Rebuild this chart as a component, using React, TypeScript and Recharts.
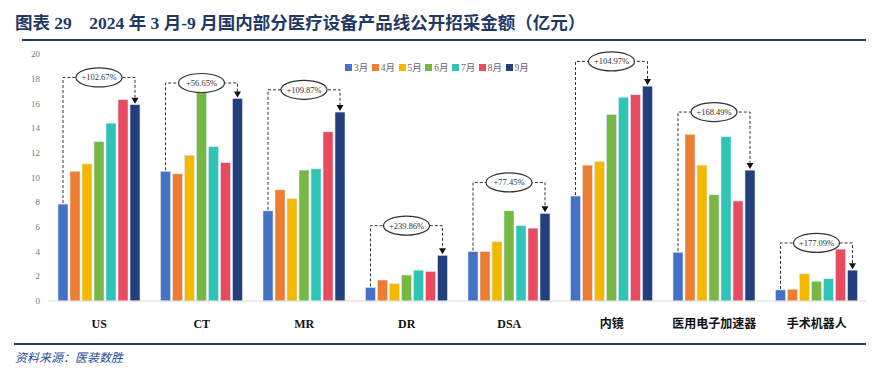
import React from 'react';
import { BarChart, Bar, XAxis, YAxis } from 'recharts';

const categories = ['US', 'CT', 'MR', 'DR', 'DSA', '内镜', '医用电子加速器', '手术机器人'];
const months = ['3月', '4月', '5月', '6月', '7月', '8月', '9月'];
const m3 = [7.85, 10.5, 7.3, 1.1, 4.0, 8.5, 3.95, 0.9];
const m4 = [10.5, 10.3, 9.0, 1.7, 4.0, 11.0, 13.5, 0.95];
const m5 = [11.1, 11.8, 8.3, 1.4, 4.8, 11.3, 11.0, 2.2];
const m6 = [12.9, 17.0, 10.6, 2.1, 7.3, 15.1, 8.6, 1.6];
const m7 = [14.4, 12.5, 10.7, 2.5, 6.1, 16.5, 13.3, 1.8];
const m8 = [16.3, 11.2, 13.7, 2.4, 5.9, 16.7, 8.1, 4.2];
const m9 = [15.9, 16.4, 15.3, 3.7, 7.1, 17.4, 10.6, 2.5];
const growth = ['+102.67%', '+56.65%', '+109.87%', '+239.86%', '+77.45%', '+104.97%', '+168.49%', '+177.09%'];
const yTicks = [0, 2, 4, 6, 8, 10, 12, 14, 16, 18, 20];

// bracket height of each annotation, in axis units
const annotationLevel = [18.1, 17.65, 17.1, 6.1, 9.6, 19.4, 15.3, 4.7];

const colors = ['#4472C4', '#ED7D31', '#F5B800', '#76B843', '#2EC4B6', '#E84A5F', '#233F7C'];
const series = [m3, m4, m5, m6, m7, m8, m9];
const keys = ['m3', 'm4', 'm5', 'm6', 'm7', 'm8', 'm9'];

const data = categories.map((name, i) => {
  const row: any = { name };
  keys.forEach((k, j) => (row[k] = series[j][i]));
  return row;
});

const BAR = 10;
const GAP = 2;

const LastBar = (props: any) => {
  const { x, y, width, height, value, index, fill } = props;
  const base = y + height;
  const ppu = height / value;
  const x9 = x + width / 2;
  const x3 = x - 6 * (width + GAP) + width / 2;
  const y3 = base - m3[index] * ppu;
  const yb = base - annotationLevel[index] * ppu;
  const mid = (x3 + x9) / 2;
  return (
    <g>
      <rect x={x} y={y} width={width} height={height} fill={fill} stroke="#dfe6f2" strokeWidth={0.6} />
      <path
        d={`M${x3},${y3 - 1} L${x3},${yb} L${x9},${yb} L${x9},${y - 7}`}
        fill="none"
        stroke="#333"
        strokeWidth={1}
        strokeDasharray="3 2"
      />
      <polygon points={`${x9 - 3.5},${y - 7} ${x9 + 3.5},${y - 7} ${x9},${y - 1}`} fill="#111" />
      <ellipse cx={mid} cy={yb} rx={23} ry={9.5} fill="#fff" stroke="#333" strokeWidth={1.2} />
      <text
        x={mid}
        y={yb + 3}
        textAnchor="middle"
        fontSize={8.5}
        fill="#333"
        fontFamily="'Liberation Serif', serif"
      >
        {growth[index]}
      </text>
    </g>
  );
};

const PlainBar = (props: any) => {
  const { x, y, width, height, fill } = props;
  return <rect x={x} y={y} width={width} height={height} fill={fill} stroke="#dfe6f2" strokeWidth={0.6} />;
};

const XTick = (props: any) => {
  const { x, y, payload } = props;
  return (
    <text
      x={x}
      y={y + 19}
      textAnchor="middle"
      fontSize={12}
      fontWeight="bold"
      fill="#111"
      fontFamily="'Liberation Serif', 'Noto Sans CJK SC', serif"
    >
      {payload.value}
    </text>
  );
};

export default function App() {
  return (
    <div style={{ position: 'relative', width: 874, height: 377, margin: -8, background: '#fff', overflow: 'hidden' }}>
      <div
        style={{
          position: 'absolute',
          left: 15,
          top: 9,
          fontFamily: "'Liberation Serif', 'Noto Sans CJK SC', serif",
          fontWeight: 'bold',
          fontSize: 17.5,
          color: '#1F3864',
          whiteSpace: 'pre',
        }}
      >
        {'图表 29    2024 年 3 月-9 月国内部分医疗设备产品线公开招采金额（亿元）'}
      </div>
      <div style={{ position: 'absolute', left: 22, right: 0, top: 39, height: 2, background: '#1F3864' }} />
      <div style={{ position: 'absolute', left: 0, top: 40 }}>
        <BarChart
          width={874}
          height={300}
          data={data}
          barSize={BAR}
          barGap={GAP}
          margin={{ top: 14, right: 6, left: 8, bottom: 9 }}
        >
          <XAxis
            dataKey="name"
            axisLine={{ stroke: '#d9d9d9' }}
            tickLine={false}
            height={30}
            interval={0}
            tick={<XTick />}
          />
          <YAxis
            domain={[0, 20]}
            ticks={yTicks}
            width={40}
            axisLine={false}
            tickLine={false}
            tick={{ fontSize: 9, fill: '#777', fontFamily: "'Liberation Serif', serif" }}
          />
          {keys.map((k, j) => (
            <Bar
              key={k}
              dataKey={k}
              name={months[j]}
              fill={colors[j]}
              isAnimationActive={false}
              shape={j === 6 ? <LastBar /> : <PlainBar />}
            />
          ))}
        </BarChart>
      </div>
      <div
        style={{
          position: 'absolute',
          left: 345,
          top: 60,
          display: 'flex',
          fontFamily: "'Liberation Serif', 'Noto Sans CJK SC', serif",
          fontSize: 9.5,
          color: '#666',
        }}
      >
        {months.map((m, i) => (
          <div key={m} style={{ display: 'flex', alignItems: 'center', marginRight: 3.5 }}>
            <span style={{ width: 7, height: 7, background: colors[i], display: 'inline-block', marginRight: 2 }} />
            {m}
          </div>
        ))}
      </div>
      <div style={{ position: 'absolute', left: 14, right: 0, top: 343, height: 2, background: '#1F3864' }} />
      <div
        style={{
          position: 'absolute',
          left: 15,
          top: 348,
          fontFamily: "'Noto Sans CJK SC', serif",
          fontStyle: 'italic',
          fontSize: 12,
          color: '#1F4E99',
        }}
      >
        资料来源：医装数胜
      </div>
    </div>
  );
}
